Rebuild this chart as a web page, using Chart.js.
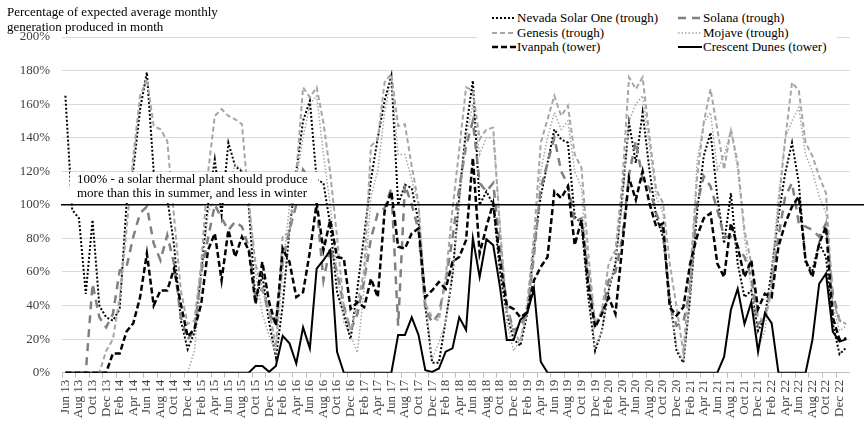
<!DOCTYPE html>
<html>
<head>
<meta charset="utf-8">
<script src="https://cdn.jsdelivr.net/npm/chart.js@4.4.1/dist/chart.umd.min.js"></script>
<style>
  html, body { margin: 0; padding: 0; background: #fff; }
  #wrap { position: relative; width: 864px; height: 422px; overflow: hidden; font-family: "Liberation Serif", "Times New Roman", serif; }
  #c { position: absolute; left: 0; top: 0; }
  #ytitle { position: absolute; left: 7px; top: 4px; font-size: 13px; line-height: 15px; color: #000; white-space: nowrap; }
  #legend { position: absolute; left: 477px; top: 9px; width: 360px; height: 46px; background: #fff; }
  .li { position: absolute; height: 15px; font-size: 13px; line-height: 15px; color: #000; white-space: nowrap; }
  .li svg { position: absolute; left: 0; top: 0; }
  .li span { position: absolute; left: 26px; top: 0; }
  #note { position: absolute; left: 70px; width: 248px; height: 31px; background: #fff; font-size: 13px; line-height: 14px; color: #000; white-space: nowrap; }
  #note div { padding-left: 7px; }
</style>
</head>
<body>
<div id="wrap">
  <canvas id="c" width="864" height="422"></canvas>
  <div id="ytitle"></div>
  <div id="legend"></div>
  <div id="note"></div>
</div>
<script>
// ---------------- data ----------------
const MONTHS = [
 "Jun 13","Jul 13","Aug 13","Sep 13","Oct 13","Nov 13","Dec 13",
 "Jan 14","Feb 14","Mar 14","Apr 14","May 14","Jun 14","Jul 14","Aug 14","Sep 14","Oct 14","Nov 14","Dec 14",
 "Jan 15","Feb 15","Mar 15","Apr 15","May 15","Jun 15","Jul 15","Aug 15","Sep 15","Oct 15","Nov 15","Dec 15",
 "Jan 16","Feb 16","Mar 16","Apr 16","May 16","Jun 16","Jul 16","Aug 16","Sep 16","Oct 16","Nov 16","Dec 16",
 "Jan 17","Feb 17","Mar 17","Apr 17","May 17","Jun 17","Jul 17","Aug 17","Sep 17","Oct 17","Nov 17","Dec 17",
 "Jan 18","Feb 18","Mar 18","Apr 18","May 18","Jun 18","Jul 18","Aug 18","Sep 18","Oct 18","Nov 18","Dec 18",
 "Jan 19","Feb 19","Mar 19","Apr 19","May 19","Jun 19","Jul 19","Aug 19","Sep 19","Oct 19","Nov 19","Dec 19",
 "Jan 20","Feb 20","Mar 20","Apr 20","May 20","Jun 20","Jul 20","Aug 20","Sep 20","Oct 20","Nov 20","Dec 20",
 "Jan 21","Feb 21","Mar 21","Apr 21","May 21","Jun 21","Jul 21","Aug 21","Sep 21","Oct 21","Nov 21","Dec 21",
 "Jan 22","Feb 22","Mar 22","Apr 22","May 22","Jun 22","Jul 22","Aug 22","Sep 22","Oct 22","Nov 22","Dec 22",
 "Jan 23"
];

const NEVADA = [165,97,92,47,91,40,33,31,38,100,
 121,157,179,120,116,104,76,31,14,24,
 60,100,127,94,137,123,120,99,42,58,
 30,9,40,85,120,150,162,115,113,88,
 48,35,20,50,82,115,140,162,177,100,
 112,110,90,40,6,6,31,58,105,145,
 174,100,108,100,60,35,20,16,35,75,
 105,125,145,139,137,93,89,45,13,25,
 49,65,105,149,125,155,121,93,81,45,
 13,6,45,95,129,143,105,77,107,65,
 45,49,25,33,61,93,119,137,113,65,
 61,77,69,29,11,15];

const SOLANA = [0,0,0,0,53,33,27,35,61,63,
 81,95,99,77,67,82,65,33,20,25,
 60,80,100,92,85,90,87,75,45,50,
 35,29,67,85,100,121,115,100,55,75,
 60,40,25,35,55,80,95,98,110,28,
 112,100,85,38,30,35,55,80,110,135,
 150,113,108,113,75,40,25,28,35,70,
 110,125,140,120,112,90,92,60,28,35,
 55,60,80,118,138,115,110,95,85,40,
 28,30,50,100,117,111,97,81,81,75,
 69,57,29,33,53,81,105,113,89,87,
 85,81,89,47,31,29];

const GENESIS = [0,0,0,0,0,0,13,20,45,85,
 129,165,175,147,145,138,93,49,29,31,
 65,119,153,157,153,151,148,101,65,49,
 38,15,82,83,119,170,164,170,149,119,
 81,39,25,41,61,135,139,173,178,147,
 148,123,101,41,33,31,57,97,133,170,
 168,139,145,146,85,37,25,18,41,81,
 137,151,165,153,159,130,122,71,29,37,
 65,73,113,176,169,176,141,109,101,65,
 39,12,60,115,149,169,145,121,145,125,
 85,65,33,31,49,99,139,173,168,137,
 129,117,107,43,31,29];

const MOJAVE = [0,0,0,0,0,0,0,0,0,0,
 0,0,0,0,0,0,0,0,0,13,
 55,95,105,108,112,124,121,105,60,35,
 22,12,60,100,115,140,160,165,130,100,
 60,30,22,12,50,105,120,155,175,130,
 130,115,100,45,8,18,30,60,100,140,
 160,130,140,140,90,30,13,20,35,70,
 120,140,155,145,150,120,110,55,15,25,
 50,65,100,150,160,165,135,105,95,41,
 15,7,45,125,149,155,121,129,145,121,
 81,50,15,25,60,105,140,150,158,130,
 120,105,95,40,25,28];

const IVANPAH = [0,0,0,0,0,0,0,11.5,11.5,24.5,
 29.5,45,71,40,49,49,62,41,21.5,26,
 41,73,83,55,85,69,81,73,41,66,
 42,28,74,66,45,48,72,101,73,91,
 69,68,38,42,39,56,45,96,108,75,
 74,83,86,45,49,54,50,66,69,79,
 128,71,87,101,67,40,38,33,36,55,
 63,69,108,104,111,76,91,52,27,35,
 45,35,75,116,103,120,101,87,89,39,
 34,39,65,81,92,95,65,57,89,75,
 57,67,38,47,45,75,89,99,105,67,
 57,77,87,33,19.5,20.5];

const CRESCENT = [0,0,0,0,0,0,0,0,0,0,
 0,0,0,0,0,0,0,0,0,0,
 0,0,0,0,0,0,0,0,4,4,
 0.5,4,22,17.5,5.5,27,14.5,62,67,73,
 12.5,0,0,0,0,0,0,0,0,22.5,
 22.5,33,22.5,1.5,0.5,2.5,12.5,14.5,33,25.5,
 80,57,79.5,76,51,19.5,19.5,31.5,35.5,50,
 6.5,0,0,0,0,0,0,0,0,0,
 0,0,0,0,0,0,0,0,0,0,
 0,0,0,0,0,0,0,9.5,37.5,50,
 29,42,12.5,35.5,29.5,0,0,0,0,0,
 19.5,53,59,24.5,18.5,20];

const Y_TICKS = [0,20,40,60,80,100,120,140,160,180,200];
const REF_VALUE = 100;
const AXIS_TITLE = ["Percentage of expected average monthly", "generation produced in month"];
const NOTE_LINES = ["100% - a solar thermal plant should produce", "more than this in summer, and less in winter"];

// ---------------- styles ----------------
const SERIES = [
  { label: "Nevada Solar One (trough)", data: NEVADA,   color: "#000000", width: 2,   dash: [2, 2],   col: 0, row: 0 },
  { label: "Solana (trough)",           data: SOLANA,   color: "#808080", width: 2.5, dash: [8, 6],   col: 1, row: 0 },
  { label: "Genesis (trough)",          data: GENESIS,  color: "#a6a6a6", width: 2,   dash: [5, 3],   col: 0, row: 1 },
  { label: "Mojave (trough)",           data: MOJAVE,   color: "#a6a6a6", width: 1.5, dash: [1.5, 2], col: 1, row: 1 },
  { label: "Ivanpah (tower)",           data: IVANPAH,  color: "#000000", width: 2.5, dash: [6, 3],   col: 0, row: 2 },
  { label: "Crescent Dunes (tower)",    data: CRESCENT, color: "#000000", width: 2,   dash: [],       col: 1, row: 2 }
];

const FONT = { family: '"Liberation Serif", "Times New Roman", serif', size: 13 };

// ---------------- html text ----------------
document.getElementById('ytitle').innerHTML = AXIS_TITLE.map(t => '<div>' + t + '</div>').join('');
const leg = document.getElementById('legend');
SERIES.forEach(s => {
  const d = document.createElement('div');
  d.className = 'li';
  d.style.left = (s.col === 0 ? 14 : 200) + 'px';
  d.style.top = (1 + s.row * 14.7) + 'px';
  const dash = s.dash.length ? ' stroke-dasharray="' + s.dash.join(' ') + '"' : '';
  d.innerHTML = '<svg width="26" height="15"><line x1="1" y1="8" x2="25" y2="8" stroke="' + s.color +
    '" stroke-width="' + s.width + '"' + dash + '/></svg><span>' + s.label + '</span>';
  leg.appendChild(d);
});
const note = document.getElementById('note');
note.innerHTML = NOTE_LINES.map(t => '<div>' + t + '</div>').join('');

// ---------------- chart ----------------
const refLine = {
  id: 'refLine',
  afterDatasetsDraw(chart) {
    const { ctx, chartArea, scales } = chart;
    const yPix = scales.y.getPixelForValue(REF_VALUE);
    ctx.save();
    ctx.strokeStyle = '#000';
    ctx.lineWidth = 1.5;
    ctx.beginPath();
    ctx.moveTo(chartArea.left - 1, yPix);
    ctx.lineTo(chart.width, yPix);
    ctx.stroke();
    ctx.restore();
  }
};

const chart = new Chart(document.getElementById('c'), {
  type: 'line',
  data: {
    labels: MONTHS,
    datasets: SERIES.slice().reverse().map(s => ({
      label: s.label,
      data: s.data,
      borderColor: s.color,
      borderWidth: s.width,
      borderDash: s.dash,
      borderCapStyle: 'butt',
      fill: false,
      pointRadius: 0,
      tension: 0
    }))
  },
  options: {
    responsive: false,
    animation: false,
    devicePixelRatio: 1,
    layout: { padding: { top: 37, right: 12, left: 0, bottom: 0 } },
    plugins: { legend: { display: false }, tooltip: { enabled: false }, title: { display: false } },
    scales: {
      x: {
        type: 'category',
        offset: true,
        grid: {
          offset: true,
          drawOnChartArea: false,
          drawTicks: true,
          tickLength: 5,
          color: c => (c.index % 2 === 0 ? '#bfbfbf' : 'rgba(0,0,0,0)')
        },
        border: { display: true, color: '#bfbfbf', width: 1 },
        ticks: {
          autoSkip: false,
          maxRotation: 90,
          minRotation: 90,
          padding: 2,
          color: '#404040',
          font: FONT,
          callback: (v, i) => (i % 2 === 0 ? MONTHS[i] : '')
        },
        afterFit: s => { s.height = 49.3; }
      },
      y: {
        min: 0,
        max: 200,
        afterBuildTicks: s => { s.ticks = Y_TICKS.map(v => ({ value: v })); },
        ticks: { padding: 12, color: '#404040', font: FONT, callback: v => v + '%' },
        grid: { color: '#d9d9d9', lineWidth: 1, drawTicks: false },
        border: { display: false },
        afterFit: s => { s.width = 62; }
      }
    }
  },
  plugins: [refLine]
});

// position the annotation box from the y scale
const yRef = chart.scales.y.getPixelForValue(REF_VALUE);
note.style.left = (chart.chartArea.left + 8) + 'px';
note.style.top = (yRef - 33) + 'px';
</script>
</body>
</html>
